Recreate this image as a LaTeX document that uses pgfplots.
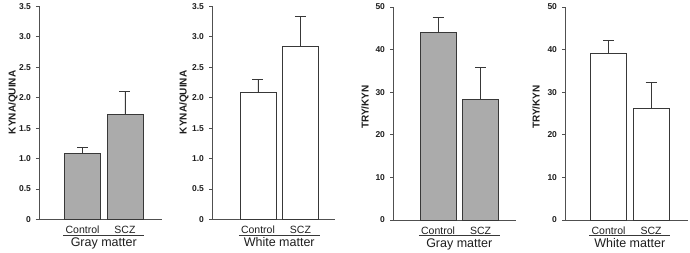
\documentclass[border=0pt]{standalone}
\usepackage{fontspec}
\setmainfont{Liberation Sans}
\setsansfont{Liberation Sans}
\usepackage{pgfplots}
\pgfplotsset{compat=1.18}
\definecolor{barfill}{HTML}{ABABAB}
\definecolor{edge}{HTML}{383838}
\definecolor{axc}{HTML}{505050}
\definecolor{txt}{HTML}{1E1E1E}

\pgfplotsset{
  panel/.style={
    scale only axis, width=123pt, height=213pt, anchor=south west,
    axis x line*=bottom, axis y line*=left,
    axis line style={axc, line width=0.9pt},
    x axis line style={shorten <=-3pt},
    xtick={0,1}, xticklabels={Control,SCZ},
    xtick style={draw=none},
    ytick style={axc, line width=0.9pt},
    tick align=outside, major tick length=3pt,
    yticklabel style={font=\bfseries\fontsize{8.5}{10}\selectfont, text=txt, xshift=-1.5pt},
    xticklabel style={font=\fontsize{10.5}{12}\selectfont, text=txt, anchor=base, yshift=-11.5pt},
    ymin=0, clip=false,
    ylabel style={font=\bfseries\fontsize{10}{12}\selectfont, text=txt, anchor=center},
    /pgf/number format/assume math mode=true,
  },
  bars/.style={
    ybar, bar width=0.847, draw=edge, line width=0.9pt,
    error bars/y dir=plus, error bars/y explicit,
    error bars/error bar style={edge, line width=0.9pt},
    error bars/error mark options={edge, line width=0.9pt, mark size=5.5pt, rotate=90},
  },
}

\begin{document}
\begin{tikzpicture}
\useasboundingbox (0,0) rectangle (690pt,253pt);

% Panel 1
\begin{axis}[panel, at={(39pt,33.5pt)}, xmin=-1.024, xmax=1.871, ymax=3.5,
  ytick={0,0.5,1,1.5,2,2.5,3,3.5}, yticklabels={0,0.5,1.0,1.5,2.0,2.5,3.0,3.5},
  ylabel={KYNA/QUINA}, ylabel style={at={([xshift=-26pt]axis description cs:0,0.55)}}]
\addplot[bars, fill=barfill] coordinates {(0,1.08) +- (0,0.10) (1,1.72) +- (0,0.39)};
\draw[edge, line width=0.8pt] ([yshift=-15.5pt]axis cs:-0.45,0) -- ([yshift=-15.5pt]axis cs:1.45,0);
\node[font=\fontsize{12.5}{14}\selectfont, text=txt, anchor=base] at ([yshift=-27.5pt]axis cs:0.5,0) {Gray matter};
\end{axis}

% Panel 2
\begin{axis}[panel, at={(212pt,33.5pt)}, xmin=-1.082, xmax=1.812, ymax=3.5,
  ytick={0,0.5,1,1.5,2,2.5,3,3.5}, yticklabels={0,0.5,1.0,1.5,2.0,2.5,3.0,3.5},
  ylabel={KYNA/QUINA}, ylabel style={at={([xshift=-28pt]axis description cs:0,0.55)}}]
\addplot[bars, fill=white] coordinates {(0,2.08) +- (0,0.22) (1,2.84) +- (0,0.50)};
\draw[edge, line width=0.8pt] ([yshift=-15.5pt]axis cs:-0.45,0) -- ([yshift=-15.5pt]axis cs:1.45,0);
\node[font=\fontsize{12.5}{14}\selectfont, text=txt, anchor=base] at ([yshift=-27.5pt]axis cs:0.5,0) {White matter};
\end{axis}

% Panel 3
\begin{axis}[panel, at={(393pt,33pt)}, xmin=-1.059, xmax=1.835, ymax=50,
  ytick={0,10,20,30,40,50},
  ylabel={TRY/KYN}, ylabel style={at={([xshift=-28pt]axis description cs:0,0.53)}}]
\addplot[bars, fill=barfill] coordinates {(0,44.0) +- (0,3.6) (1,28.2) +- (0,7.6)};
\draw[edge, line width=0.8pt] ([yshift=-15.5pt]axis cs:-0.45,0) -- ([yshift=-15.5pt]axis cs:1.45,0);
\node[font=\fontsize{12.5}{14}\selectfont, text=txt, anchor=base] at ([yshift=-27.5pt]axis cs:0.5,0) {Gray matter};
\end{axis}

% Panel 4
\begin{axis}[panel, at={(565pt,33pt)}, xmin=-1.024, xmax=1.871, ymax=50,
  ytick={0,10,20,30,40,50},
  ylabel={TRY/KYN}, ylabel style={at={([xshift=-29pt]axis description cs:0,0.53)}}]
\addplot[bars, fill=white] coordinates {(0,39.0) +- (0,3.1) (1,26.1) +- (0,6.1)};
\draw[edge, line width=0.8pt] ([yshift=-15.5pt]axis cs:-0.45,0) -- ([yshift=-15.5pt]axis cs:1.45,0);
\node[font=\fontsize{12.5}{14}\selectfont, text=txt, anchor=base] at ([yshift=-27.5pt]axis cs:0.5,0) {White matter};
\end{axis}
\end{tikzpicture}
\end{document}
